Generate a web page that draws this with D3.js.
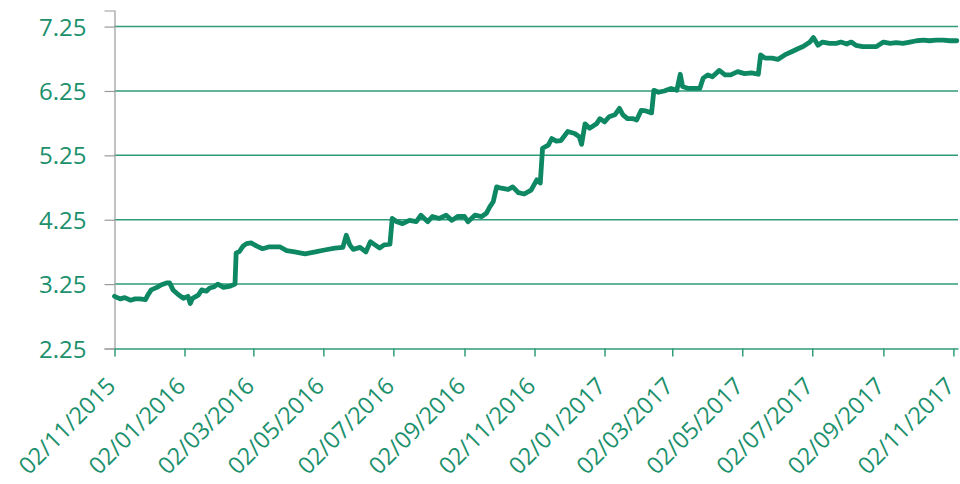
<!DOCTYPE html>
<html>
<head>
<meta charset="utf-8">
<script src="https://cdn.jsdelivr.net/npm/d3@7"></script>
<style>
  html, body { margin: 0; padding: 0; background: #fff; }
  svg { display: block; }
  text { font-family: "Open Sans", "Noto Sans", sans-serif; fill: #1b906c; }
</style>
</head>
<body>
<svg id="chart" width="960" height="484"></svg>
<script>
// ---- data ----
const dates = [
  "2015-11-02","2015-11-07","2015-11-11","2015-11-16","2015-11-20","2015-11-24","2015-11-29",
  "2015-12-01","2015-12-04","2015-12-09","2015-12-13","2015-12-18","2015-12-20","2015-12-23","2015-12-28",
  "2016-01-01","2016-01-05","2016-01-07","2016-01-09","2016-01-14","2016-01-17","2016-01-21","2016-01-24","2016-01-28","2016-01-31",
  "2016-02-05","2016-02-11","2016-02-15","2016-02-16","2016-02-19","2016-02-22","2016-02-25","2016-02-29",
  "2016-03-05","2016-03-10","2016-03-16","2016-03-25","2016-03-31",
  "2016-04-07","2016-04-16","2016-04-25",
  "2016-05-03","2016-05-12","2016-05-19","2016-05-22","2016-05-25","2016-05-28",
  "2016-06-03","2016-06-08","2016-06-12","2016-06-16","2016-06-20","2016-06-24","2016-06-29",
  "2016-07-01","2016-07-05","2016-07-10","2016-07-16","2016-07-22","2016-07-26",
  "2016-08-01","2016-08-05","2016-08-11","2016-08-17","2016-08-22","2016-08-27",
  "2016-09-02","2016-09-05","2016-09-11","2016-09-17","2016-09-21","2016-09-24","2016-09-27","2016-09-30",
  "2016-10-04","2016-10-10","2016-10-14","2016-10-19","2016-10-24","2016-10-30",
  "2016-11-04","2016-11-07","2016-11-09","2016-11-14","2016-11-17","2016-11-21","2016-11-25",
  "2016-12-01","2016-12-07","2016-12-11","2016-12-13","2016-12-16","2016-12-20","2016-12-26","2016-12-29",
  "2017-01-02","2017-01-06","2017-01-11","2017-01-15","2017-01-18","2017-01-22","2017-01-27","2017-01-30",
  "2017-02-03","2017-02-07","2017-02-12","2017-02-14","2017-02-18","2017-02-23",
  "2017-03-01","2017-03-06","2017-03-09","2017-03-11","2017-03-16","2017-03-22","2017-03-26","2017-03-29",
  "2017-04-02","2017-04-06","2017-04-12","2017-04-17","2017-04-22","2017-04-28",
  "2017-05-04","2017-05-10","2017-05-16","2017-05-18","2017-05-22","2017-05-28",
  "2017-06-02","2017-06-08","2017-06-14","2017-06-20","2017-06-24","2017-06-30",
  "2017-07-03","2017-07-07","2017-07-11","2017-07-17","2017-07-23","2017-07-27",
  "2017-08-01","2017-08-05","2017-08-09","2017-08-15","2017-08-21","2017-08-27",
  "2017-09-02","2017-09-08","2017-09-13","2017-09-19","2017-09-25",
  "2017-10-01","2017-10-07","2017-10-12","2017-10-18","2017-10-24","2017-10-30",
  "2017-11-05"
];
const values = [
  3.06,3.02,3.04,3.00,3.02,3.02,3.01,
  3.08,3.16,3.20,3.24,3.27,3.27,3.16,3.08,
  3.03,3.06,2.95,3.03,3.08,3.16,3.14,3.19,3.21,3.25,
  3.20,3.22,3.25,3.73,3.76,3.84,3.88,3.89,
  3.84,3.80,3.83,3.83,3.77,
  3.75,3.72,3.75,
  3.78,3.81,3.82,4.01,3.86,3.79,
  3.82,3.75,3.91,3.86,3.81,3.86,3.87,
  4.27,4.22,4.19,4.24,4.22,4.32,
  4.22,4.30,4.27,4.32,4.24,4.30,
  4.30,4.22,4.32,4.30,4.35,4.45,4.53,4.76,
  4.74,4.72,4.76,4.67,4.65,4.71,
  4.87,4.82,5.36,5.41,5.51,5.47,5.48,
  5.62,5.59,5.54,5.42,5.74,5.67,5.74,5.82,
  5.77,5.85,5.88,5.98,5.88,5.82,5.82,5.80,
  5.95,5.94,5.91,6.26,6.23,6.25,
  6.29,6.26,6.51,6.32,6.29,6.29,6.29,6.45,
  6.50,6.47,6.57,6.50,6.50,6.55,
  6.52,6.53,6.51,6.81,6.76,6.76,
  6.74,6.81,6.86,6.91,6.94,7.01,
  7.08,6.96,7.01,6.99,6.99,7.01,
  6.98,7.01,6.96,6.94,6.94,6.94,
  7.01,6.99,7.00,6.99,7.01,
  7.03,7.04,7.03,7.04,7.04,7.03,
  7.03
];
const xTickDates = ["2015-11-02","2016-01-02","2016-03-02","2016-05-02","2016-07-02","2016-09-02",
                    "2016-11-02","2017-01-02","2017-03-02","2017-05-02","2017-07-02","2017-09-02","2017-11-02"];
const yTicks = [2.25, 3.25, 4.25, 5.25, 6.25, 7.25];
const xDomain = ["2015-11-02", "2017-11-06"];
const yDomain = [2.25, 7.5];

// ---- drawing ----
const parse = d3.timeParse("%Y-%m-%d");
const fmt = d3.timeFormat("%d/%m/%Y");
const data = dates.map((d, i) => ({ date: parse(d), value: values[i] }));

const svg = d3.select("#chart");
const M = { left: 114.5, right: 958, top: 10.5, bottom: 348.5 };

const x = d3.scaleTime().domain(xDomain.map(parse)).range([M.left, M.right]);
const y = d3.scaleLinear().domain(yDomain).range([M.bottom, M.top]);

const gridColor = "#2f9c79";
const lineColor = "#0e8763";

// gridlines
svg.append("g").selectAll("line").data(yTicks.slice(1)).join("line")
  .attr("x1", M.left).attr("x2", M.right)
  .attr("y1", d => y(d)).attr("y2", d => y(d))
  .attr("stroke", gridColor).attr("stroke-width", 1.5);

// y axis
const yAxis = d3.axisLeft(y).tickValues(yTicks).tickFormat(d3.format(".2f")).tickSize(10).tickPadding(18);
const gy = svg.append("g").attr("transform", `translate(${M.left},0)`).call(yAxis);
gy.select(".domain").attr("stroke", "#9a9a9a").attr("stroke-width", 1.2);
gy.selectAll(".tick line").attr("stroke", "#9a9a9a").attr("stroke-width", 1.2);
gy.selectAll(".tick text")
  .attr("font-size", 24).attr("font-family", "Open Sans, Noto Sans, sans-serif")
  .attr("fill", "#1b906c").attr("dy", "0.36em");

// x axis
const xAxis = d3.axisBottom(x).tickValues(xTickDates.map(parse)).tickFormat(fmt).tickSize(8).tickSizeOuter(0);
const gx = svg.append("g").attr("transform", `translate(0,${M.bottom})`).call(xAxis);
gx.select(".domain").attr("stroke", gridColor).attr("stroke-width", 1.5);
gx.selectAll(".tick line").attr("stroke", gridColor).attr("stroke-width", 1.5);
gx.selectAll(".tick text")
  .attr("font-size", 23.5).attr("font-family", "Open Sans, Noto Sans, sans-serif")
  .attr("fill", "#1b906c")
  .attr("text-anchor", "end")
  .attr("x", 0).attr("y", 0).attr("dy", 0)
  .attr("transform", "translate(2,39) rotate(-45)");

// series line
const line = d3.line().x(d => x(d.date)).y(d => y(d.value));
svg.append("path").datum(data)
  .attr("d", line)
  .attr("fill", "none")
  .attr("stroke", lineColor)
  .attr("stroke-width", 4.8)
  .attr("stroke-linejoin", "round")
  .attr("stroke-linecap", "round");
</script>
</body>
</html>
